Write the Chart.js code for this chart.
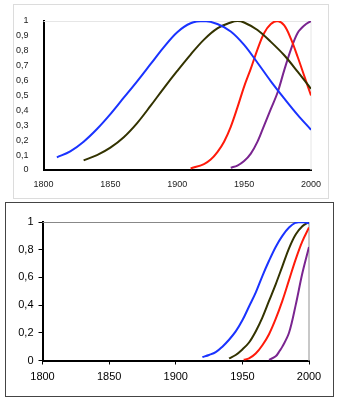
<!DOCTYPE html>
<html>
<head>
<meta charset="utf-8">
<script src="https://cdn.jsdelivr.net/npm/chart.js@4/dist/chart.umd.min.js"></script>
<style>
  html, body { margin: 0; padding: 0; background: #fff; }
  body { width: 338px; height: 402px; position: relative; overflow: hidden; }
  #box1 { position: absolute; left: 13px; top: 4px; width: 314px; height: 193px; border: 1px solid #dcdcdc; }
  #box2 { position: absolute; left: 5px; top: 202px; width: 327px; height: 193px; border: 1px solid #444; }
  .wrap { position: absolute; left: 0; top: 0; right: 0; bottom: 0; }
</style>
</head>
<body>
<div id="box1"><div class="wrap"><canvas id="c1"></canvas></div></div>
<div id="box2"><div class="wrap"><canvas id="c2"></canvas></div></div>
<script>
// ---- Data (top chart) ----
const xTickYears = [1800, 1850, 1900, 1950, 2000];
const topYTickLabels = ['0', '0,1', '0,2', '0,3', '0,4', '0,5', '0,6', '0,7', '0,8', '0,9', '1'];
const bottomYTickLabels = ['0', '0,2', '0,4', '0,6', '0,8', '1'];

const topBlueYears  = [1810,1820,1830,1840,1850,1860,1870,1880,1890,1900,1910,1920,1930,1940,1950,1960,1970,1980,1990,2000];
const topBlueValues = [0.085,0.125,0.19,0.275,0.375,0.485,0.595,0.71,0.825,0.925,0.985,1.0,0.98,0.93,0.84,0.72,0.595,0.48,0.37,0.27];

const topBlackYears  = [1830,1840,1850,1860,1870,1880,1890,1900,1910,1920,1930,1940,1945,1950,1960,1970,1980,1990,2000];
const topBlackValues = [0.065,0.10,0.15,0.22,0.315,0.43,0.55,0.665,0.775,0.875,0.95,0.99,1.0,0.99,0.94,0.86,0.77,0.66,0.545];

const topRedYears  = [1910,1920,1925,1930,1935,1940,1945,1950,1955,1960,1965,1970,1975,1980,1985,1990,1995,2000];
const topRedValues = [0.01,0.04,0.07,0.12,0.19,0.29,0.42,0.56,0.68,0.81,0.92,0.98,1.0,0.97,0.88,0.76,0.63,0.50];

const topPurpleYears  = [1940,1945,1950,1955,1960,1965,1970,1975,1980,1985,1990,1995,2000];
const topPurpleValues = [0.015,0.03,0.06,0.11,0.19,0.30,0.41,0.52,0.67,0.81,0.92,0.97,1.0];

// ---- Data (bottom chart) ----
const botBlueYears  = [1920,1925,1930,1935,1940,1945,1950,1955,1960,1965,1970,1975,1980,1985,1990,1995,2000];
const botBlueValues = [0.025,0.04,0.06,0.10,0.15,0.21,0.29,0.39,0.49,0.61,0.72,0.82,0.90,0.96,0.995,1.0,0.99];

const botBlackYears  = [1940,1945,1950,1955,1960,1965,1970,1975,1980,1985,1990,1995,2000];
const botBlackValues = [0.015,0.04,0.08,0.13,0.21,0.31,0.43,0.55,0.68,0.81,0.91,0.97,1.0];

const botRedYears  = [1951,1955,1960,1965,1970,1975,1980,1985,1990,1995,2000];
const botRedValues = [0.005,0.015,0.05,0.11,0.19,0.30,0.43,0.58,0.73,0.86,0.96];

const botPurpleYears  = [1970,1975,1978,1980,1985,1990,1995,2000];
const botPurpleValues = [0.005,0.03,0.07,0.10,0.20,0.40,0.63,0.82];

const COLORS = { blue: '#1a33ff', black: '#333300', red: '#ff1a0a', purple: '#7a2590' };

function pts(xs, ys) { return xs.map((x, i) => ({ x: x, y: ys[i] })); }
function ds(xs, ys, color) {
  return { data: pts(xs, ys), borderColor: color, backgroundColor: color, borderWidth: 2,
           pointRadius: 0, tension: 0.35, fill: false };
}

function framePlugin(topColor, rightColor, rightWidth) {
  return {
    id: 'frame',
    beforeDatasetsDraw(chart) {
      const a = chart.chartArea, ctx = chart.ctx;
      ctx.save();
      ctx.strokeStyle = topColor; ctx.lineWidth = 1;
      ctx.beginPath(); ctx.moveTo(a.left, a.top + 0.5); ctx.lineTo(a.right, a.top + 0.5); ctx.stroke();
      ctx.strokeStyle = rightColor; ctx.lineWidth = rightWidth;
      ctx.beginPath(); ctx.moveTo(a.right, a.top); ctx.lineTo(a.right, a.bottom); ctx.stroke();
      ctx.restore();
    }
  };
}

const FONT = 'Liberation Sans, Arial, sans-serif';
Chart.defaults.font.family = FONT;
Chart.defaults.animation = false;

// ---- Top chart ----
new Chart(document.getElementById('c1'), {
  type: 'line',
  data: { datasets: [
    ds(topBlueYears, topBlueValues, COLORS.blue),
    ds(topBlackYears, topBlackValues, COLORS.black),
    ds(topRedYears, topRedValues, COLORS.red),
    ds(topPurpleYears, topPurpleValues, COLORS.purple)
  ]},
  options: {
    responsive: true, maintainAspectRatio: false, animation: false,
    layout: { padding: { left: 0, right: 17, top: 16, bottom: 0 } },
    plugins: { legend: { display: false }, tooltip: { enabled: false } },
    scales: {
      x: {
        type: 'linear', min: 1800, max: 2000,
        afterBuildTicks(s) { s.ticks = xTickYears.map(v => ({ value: v })); },
        grid: { display: false },
        border: { display: true, color: '#000', width: 2 },
        ticks: { color: '#222', font: { size: 9, family: FONT }, padding: 1, maxRotation: 0,
                 callback: v => String(v) },
        afterFit(s) { s.height = 28; }
      },
      y: {
        min: 0, max: 1,
        afterBuildTicks(s) { s.ticks = topYTickLabels.map((t, i) => ({ value: i / 10 })); },
        grid: { display: false },
        border: { display: true, color: '#000', width: 2 },
        ticks: { color: '#222', font: { size: 9, family: FONT }, padding: 7,
                 callback: (v, i) => topYTickLabels[i] },
        afterFit(s) { s.width = 29.5; }
      }
    }
  },
  plugins: [framePlugin('#e6e6e6', '#e6e6e6', 1)]
});

// ---- Bottom chart ----
new Chart(document.getElementById('c2'), {
  type: 'line',
  data: { datasets: [
    ds(botBlueYears, botBlueValues, COLORS.blue),
    ds(botBlackYears, botBlackValues, COLORS.black),
    ds(botRedYears, botRedValues, COLORS.red),
    ds(botPurpleYears, botPurpleValues, COLORS.purple)
  ]},
  options: {
    responsive: true, maintainAspectRatio: false, animation: false,
    layout: { padding: { left: 0, right: 24, top: 19, bottom: 0 } },
    plugins: { legend: { display: false }, tooltip: { enabled: false } },
    scales: {
      x: {
        type: 'linear', min: 1800, max: 2000,
        afterBuildTicks(s) { s.ticks = xTickYears.map(v => ({ value: v })); },
        grid: { display: true, drawOnChartArea: false, drawTicks: true, tickLength: 4, color: '#000', lineWidth: 1 },
        border: { display: true, color: '#000', width: 2 },
        ticks: { color: '#000', font: { size: 11, family: FONT }, padding: 6, maxRotation: 0,
                 callback: v => String(v) },
        afterFit(s) { s.height = 35.5; }
      },
      y: {
        min: 0, max: 1,
        afterBuildTicks(s) { s.ticks = bottomYTickLabels.map((t, i) => ({ value: i / 5 })); },
        grid: { display: true, drawOnChartArea: false, drawTicks: true, tickLength: 4, color: '#000', lineWidth: 1 },
        border: { display: true, color: '#000', width: 2 },
        ticks: { color: '#000', font: { size: 11, family: FONT }, padding: 5,
                 callback: (v, i) => bottomYTickLabels[i] },
        afterFit(s) { s.width = 36.5; }
      }
    }
  },
  plugins: [framePlugin('#888888', '#c8c8c8', 2)]
});
</script>
</body>
</html>
